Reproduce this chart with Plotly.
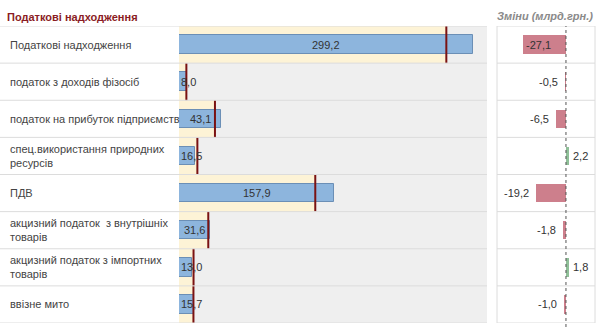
import plotly.graph_objects as go

# Tax revenue lines, billions UAH
categories = [
    "Податкові надходження",
    "податок з доходів фізосіб",
    "податок на прибуток підприємств",
    "спец.використання природних<br>ресурсів",
    "ПДВ",
    "акцизний податок  з внутрішніх<br>товарів",
    "акцизний податок з імпортних<br>товарів",
    "ввізне мито",
]
values = [299.2, 8.0, 43.1, 16.5, 157.9, 31.6, 13.0, 15.7]
changes = [-27.1, -0.5, -6.5, 2.2, -19.2, -1.8, 1.8, -1.0]

title_left = "Податкові надходження"
title_right = "Зміни (млрд.грн.)"

W, H = 600, 327
TOP, BOTTOM = 26, 323            # plot area in pixels
n = len(categories)
rows = list(range(n))
targets = [v + c for v, c in zip(values, changes)]

LEFT_DOM = (179, 487)
RIGHT_DOM = (497, 595)
LEFT_RANGE = (0, 313.5)
RIGHT_RANGE = (-43.7, 18.4)

FONT = "Liberation Sans, Arial, sans-serif"
GRID = "#dcdcdc"


def px(x):
    return x / W


def py(y):
    return (BOTTOM - y) / (BOTTOM - TOP)


def fmt(v):
    return f"{v:.1f}".replace(".", ",")


fig = go.Figure()

# reference band (value + change) behind each bar
fig.add_trace(go.Bar(
    x=targets, y=rows, orientation="h", width=1.0,
    marker=dict(color="#fdf3d6", line=dict(width=0)),
    xaxis="x", yaxis="y", hoverinfo="skip", showlegend=False,
))
# current value bars
fig.add_trace(go.Bar(
    x=values, y=rows, orientation="h", width=0.5,
    marker=dict(color="#8db5dd", line=dict(color="#6b8fb6", width=1)),
    xaxis="x", yaxis="y", showlegend=False,
))
# target markers
mx, my = [], []
for i, t in enumerate(targets):
    mx += [t, t, None]
    my += [i - 0.5, i + 0.5, None]
fig.add_trace(go.Scatter(
    x=mx, y=my, mode="lines", line=dict(color="#7a1212", width=2),
    xaxis="x", yaxis="y", hoverinfo="skip", showlegend=False,
))
# change bars
fig.add_trace(go.Bar(
    x=changes, y=rows, orientation="h", width=0.5,
    marker=dict(color=["#cd7f8c" if c < 0 else "#8fbf98" for c in changes],
                line=dict(width=0)),
    xaxis="x2", yaxis="y", showlegend=False,
))

shapes = []
# grey panel behind value bars
shapes.append(dict(type="rect", xref="paper", yref="y", layer="below",
                   x0=px(LEFT_DOM[0]), x1=px(LEFT_DOM[1]), y0=-0.5, y1=n - 0.5,
                   fillcolor="#efefef", line=dict(width=0)))
# row separators
for b in [k - 0.5 for k in range(n + 1)]:
    shapes.append(dict(type="line", xref="paper", yref="y", layer="above",
                       x0=0, x1=px(LEFT_DOM[1]), y0=b, y1=b,
                       line=dict(color=GRID, width=1)))
    shapes.append(dict(type="line", xref="paper", yref="y", layer="above",
                       x0=px(RIGHT_DOM[0]), x1=px(RIGHT_DOM[1]), y0=b, y1=b,
                       line=dict(color=GRID, width=1)))
for xb in RIGHT_DOM:
    shapes.append(dict(type="line", xref="paper", yref="y", layer="above",
                       x0=px(xb), x1=px(xb), y0=-0.5, y1=n - 0.5,
                       line=dict(color=GRID, width=1)))
# zero line of the change panel
shapes.append(dict(type="line", xref="x2", yref="paper", layer="above",
                   x0=0, x1=0, y0=py(H), y1=py(TOP),
                   line=dict(color="#555555", width=1, dash="dot")))

ann = []
ann.append(dict(text=title_left, xref="paper", yref="paper", x=px(5), y=py(17),
                xanchor="left", yanchor="middle", showarrow=False,
                font=dict(family=FONT, size=11, color="#8b1c24", weight="bold")))
ann.append(dict(text=f"<i>{title_right}</i>", xref="paper", yref="paper", x=px(545), y=py(16),
                xanchor="center", yanchor="middle", showarrow=False,
                font=dict(family=FONT, size=11, color="#8a8a8a", weight="bold")))

for i, name in enumerate(categories):
    ann.append(dict(text=name, xref="paper", yref="y", x=px(8), y=i,
                    xanchor="left", yanchor="middle", align="left", showarrow=False,
                    font=dict(family=FONT, size=11, color="#444444")))

left_scale = (LEFT_DOM[1] - LEFT_DOM[0]) / (LEFT_RANGE[1] - LEFT_RANGE[0])
for i, v in enumerate(values):
    label = fmt(v)
    if v * left_scale > len(label) * 6 + 4:
        ann.append(dict(text=label, xref="x", yref="y", x=v / 2, y=i,
                        xanchor="center", yanchor="middle", showarrow=False,
                        font=dict(family=FONT, size=11, color="#333333")))
    else:
        ann.append(dict(text=label, xref="x", yref="y", x=0, y=i, xshift=0,
                        xanchor="left", yanchor="middle", showarrow=False,
                        font=dict(family=FONT, size=11, color="#333333")))

right_scale = (RIGHT_DOM[1] - RIGHT_DOM[0]) / (RIGHT_RANGE[1] - RIGHT_RANGE[0])
for i, c in enumerate(changes):
    label = fmt(c)
    tw = len(label) * 5.6
    if c < 0:
        room = (c - RIGHT_RANGE[0]) * right_scale
        if room < tw + 6:
            a = dict(x=c, xanchor="left", xshift=1)
        else:
            a = dict(x=c, xanchor="right", xshift=-5)
    else:
        a = dict(x=c, xanchor="left", xshift=2)
    ann.append(dict(text=label, xref="x2", yref="y", y=i, yanchor="middle",
                    showarrow=False, font=dict(family=FONT, size=11, color="#333333"), **a))

hidden = dict(showgrid=False, zeroline=False, showticklabels=False, showline=False, ticks="")
fig.update_layout(
    width=W, height=H,
    margin=dict(l=0, r=0, t=TOP, b=H - BOTTOM, pad=0),
    paper_bgcolor="white", plot_bgcolor="rgba(0,0,0,0)",
    barmode="overlay", bargap=0,
    xaxis=dict(domain=[px(LEFT_DOM[0]), px(LEFT_DOM[1])], range=list(LEFT_RANGE), **hidden),
    xaxis2=dict(domain=[px(RIGHT_DOM[0]), px(RIGHT_DOM[1])], range=list(RIGHT_RANGE), **hidden),
    yaxis=dict(range=[n - 0.5, -0.5], **hidden),
    shapes=shapes, annotations=ann,
    font=dict(family=FONT),
)

fig.write_html("out.html", config={"displayModeBar": False})
